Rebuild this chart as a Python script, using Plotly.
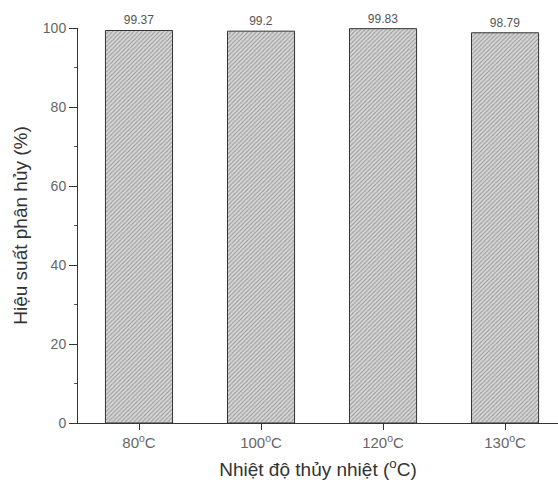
import plotly.graph_objects as go

categories = ["80<sup>o</sup>C", "100<sup>o</sup>C", "120<sup>o</sup>C", "130<sup>o</sup>C"]
efficiency = [99.37, 99.2, 99.83, 98.79]
value_labels = ["99.37", "99.2", "99.83", "98.79"]

font_main = "Liberation Sans, Arial"

fig = go.Figure(
    go.Bar(
        x=categories,
        y=efficiency,
        width=0.55,
        text=value_labels,
        textposition="outside",
        cliponaxis=False,
        textfont=dict(family=font_main, size=12, color="#555555"),
        marker=dict(
            color="#d0d0d0",
            line=dict(color="#333333", width=1),
            pattern=dict(shape="/", fgcolor="#5a5a5a", bgcolor="#d8d8d8", size=3, solidity=0.35),
        ),
    )
)

fig.update_layout(
    width=558,
    height=486,
    margin=dict(l=78, r=0, t=28, b=63),
    paper_bgcolor="white",
    plot_bgcolor="white",
    showlegend=False,
    font=dict(family=font_main, size=14, color="#555555"),
)

fig.update_xaxes(
    range=[-0.5, 3.434],
    showline=True,
    linecolor="#333333",
    linewidth=1,
    ticks="outside",
    ticklen=6,
    tickcolor="#333333",
    tickfont=dict(size=15, color="#666666"),
    minor=dict(ticks="outside", ticklen=3, tickcolor="#555555", dtick=1, tick0=0.5),
    showgrid=False,
    zeroline=False,
    title=dict(text="Nhiệt độ thủy nhiệt (<sup>o</sup>C)", font=dict(size=19, color="#333333"), standoff=12),
)

fig.update_yaxes(
    range=[0, 100],
    tickvals=[0, 20, 40, 60, 80, 100],
    showline=True,
    linecolor="#333333",
    linewidth=1,
    ticks="outside",
    ticklen=8,
    tickcolor="#333333",
    tickfont=dict(size=14, color="#666666"),
    minor=dict(ticks="outside", ticklen=3, tickcolor="#555555", dtick=10, tick0=10),
    showgrid=False,
    zeroline=False,
    title=dict(text="Hiệu suất phân hủy (%)", font=dict(size=19, color="#333333"), standoff=10),
)

fig.write_html("out.html")
